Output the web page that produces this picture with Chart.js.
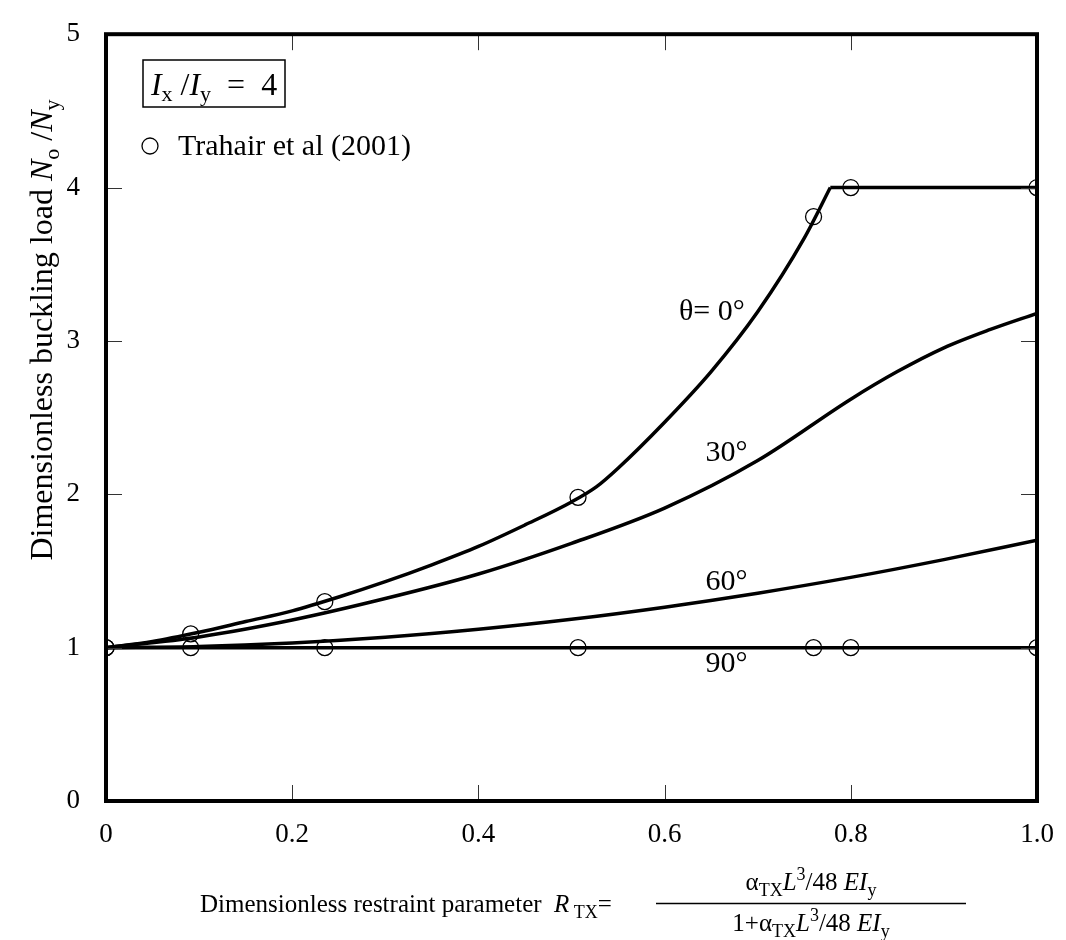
<!DOCTYPE html>
<html>
<head>
<meta charset="utf-8">
<title>Dimensionless buckling load</title>
<script src="https://cdn.jsdelivr.net/npm/chart.js@4.4.0/dist/chart.umd.min.js"></script>
<style>
  html, body { margin: 0; padding: 0; background: #fff; }
  #wrap { width: 1066px; height: 940px; }
</style>
</head>
<body>
<div id="wrap"><canvas id="grafico" width="1066" height="940"></canvas></div>
<script>
"use strict";
//Dados - curvas (R_TX x N0/Ny)
const rTheta0 = [0, 0.05, 0.1, 0.15, 0.2, 0.25, 0.3, 0.35, 0.4, 0.45, 0.5, 0.527, 0.55, 0.6, 0.65, 0.7, 0.75, 0.778];
const nTheta0 = [1, 1.04, 1.10, 1.17, 1.24, 1.33, 1.43, 1.54, 1.66, 1.80, 1.95, 2.05, 2.17, 2.47, 2.80, 3.19, 3.67, 4.0];
const rPlateau = [0.778, 1.0];
const nPlateau = [4.0, 4.0];
const rTheta30 = [0, 0.1, 0.2, 0.3, 0.4, 0.5, 0.6, 0.7, 0.8, 0.85, 0.9, 0.95, 1.0];
const nTheta30 = [1, 1.07, 1.18, 1.32, 1.48, 1.68, 1.91, 2.22, 2.62, 2.80, 2.955, 3.075, 3.18];
const rTheta60 = [0, 0.1, 0.2, 0.3, 0.4, 0.5, 0.6, 0.7, 0.8, 0.9, 1.0];
const nTheta60 = [1, 1.008, 1.031, 1.068, 1.12, 1.185, 1.264, 1.355, 1.458, 1.574, 1.70];
const rTheta90 = [0, 1.0];
const nTheta90 = [1, 1];
//Dados - Trahair et al (2001)
const rTrahair = [0, 0.091, 0.235, 0.507, 0.76, 0.80, 1.0];
const nTrahair0 = [1, 1.09, 1.30, 1.98, 3.81, 4.0, 4.0];
const nTrahair90 = [1, 1, 1, 1, 1, 1, 1];
//Eixos
const xTicks = [0, 0.2, 0.4, 0.6, 0.8, 1.0];
const yTicks = [0, 1, 2, 3, 4, 5];
//Rotulos das curvas
const curveLabels = [
  { text: "\u03b8= 0\u00b0", x: 0.686, y: 3.19 },
  { text: "30\u00b0", x: 0.689, y: 2.27 },
  { text: "60\u00b0", x: 0.689, y: 1.43 },
  { text: "90\u00b0", x: 0.689, y: 0.89 },
];

const FONT = '"Liberation Serif", "DejaVu Serif", serif';

const pares = (xs, ys) => xs.map((x, i) => ({ x: x, y: ys[i] }));

const linha = (label, xs, ys) => ({
  label: label,
  data: pares(xs, ys),
  showLine: true,
  borderColor: "#000",
  borderWidth: 3.5,
  pointRadius: 0,
  cubicInterpolationMode: "monotone",
  fill: false,
});

const pontos = (label, xs, ys) => ({
  label: label,
  data: pares(xs, ys),
  showLine: false,
  pointStyle: "circle",
  pointRadius: 8,
  pointBorderWidth: 1.3,
  pointBorderColor: "#000",
  pointBackgroundColor: "rgba(0,0,0,0)",
});

const fontOf = (p) => `${p.i ? "italic " : ""}${p.s}px ${FONT}`;

//texto com subscritos / sobrescritos
const richText = (ctx, parts, x, y, align) => {
  let w = 0;
  parts.forEach((p) => {
    ctx.font = fontOf(p);
    w += ctx.measureText(p.t).width;
  });
  let cx = align === "center" ? x - w / 2 : align === "right" ? x - w : x;
  ctx.textAlign = "left";
  parts.forEach((p) => {
    ctx.font = fontOf(p);
    ctx.fillText(p.t, cx, y + (p.dy || 0));
    cx += ctx.measureText(p.t).width;
  });
  return w;
};

const decoracao = {
  id: "decoracao",
  afterDatasetsDraw(chart) {
    const ctx = chart.ctx;
    const area = chart.chartArea;
    const sx = chart.scales.x;
    const sy = chart.scales.y;
    ctx.save();
    ctx.fillStyle = "#000";

    //ticks para dentro nos quatro lados
    ctx.lineWidth = 1;
    ctx.strokeStyle = "#333";
    ctx.beginPath();
    xTicks.slice(1, -1).forEach((v) => {
      const px = Math.round(sx.getPixelForValue(v)) + 0.5;
      ctx.moveTo(px, area.bottom);
      ctx.lineTo(px, area.bottom - 16);
      ctx.moveTo(px, area.top);
      ctx.lineTo(px, area.top + 16);
    });
    yTicks.slice(1, -1).forEach((v) => {
      const py = Math.round(sy.getPixelForValue(v)) + 0.5;
      ctx.moveTo(area.left, py);
      ctx.lineTo(area.left + 16, py);
      ctx.moveTo(area.right, py);
      ctx.lineTo(area.right - 16, py);
    });
    ctx.stroke();

    //moldura
    ctx.strokeStyle = "#000";
    ctx.lineWidth = 4;
    ctx.strokeRect(area.left, area.top, area.right - area.left, area.bottom - area.top);

    //rotulos das curvas
    ctx.textBaseline = "middle";
    curveLabels.forEach((l) => {
      ctx.font = `30px ${FONT}`;
      ctx.textAlign = "right";
      ctx.fillText(l.text, sx.getPixelForValue(l.x), sy.getPixelForValue(l.y));
    });

    //caixa I_x / I_y = 4
    ctx.textBaseline = "alphabetic";
    ctx.lineWidth = 1.5;
    ctx.strokeRect(143, 60, 142, 47);
    richText(ctx, [
      { t: "I", i: true, s: 32 },
      { t: "x", s: 22, dy: 6 },
      { t: " /", s: 32 },
      { t: "I", i: true, s: 32 },
      { t: "y", s: 22, dy: 6 },
      { t: "  =  4", s: 32 },
    ], 214, 95, "center");

    //legenda
    ctx.lineWidth = 1.3;
    ctx.beginPath();
    ctx.arc(150, 146, 8, 0, Math.PI * 2);
    ctx.stroke();
    ctx.textBaseline = "middle";
    ctx.font = `30px ${FONT}`;
    ctx.textAlign = "left";
    ctx.fillText("Trahair et al (2001)", 178, 147);

    //titulo eixo y
    ctx.textBaseline = "alphabetic";
    ctx.save();
    ctx.translate(42, 330);
    ctx.rotate(-Math.PI / 2);
    richText(ctx, [
      { t: "Dimensionless buckling load ", s: 32 },
      { t: "N", i: true, s: 32 },
      { t: "o", s: 22, dy: 7 },
      { t: " /", s: 32 },
      { t: "N", i: true, s: 32 },
      { t: "y", s: 22, dy: 7 },
    ], 0, 10, "center");
    ctx.restore();

    //titulo eixo x
    richText(ctx, [
      { t: "Dimensionless restraint parameter  ", s: 25 },
      { t: "R", i: true, s: 25 },
      { t: " TX", s: 18, dy: 6 },
      { t: "=", s: 25 },
    ], 200, 912, "left");
    ctx.lineWidth = 1.5;
    ctx.beginPath();
    ctx.moveTo(656, 903.5);
    ctx.lineTo(966, 903.5);
    ctx.stroke();
    const frac = (pre) => [
      { t: pre, s: 25 },
      { t: "TX", s: 18, dy: 6 },
      { t: "L", i: true, s: 25 },
      { t: "3", s: 18, dy: -10 },
      { t: "/48 ", s: 25 },
      { t: "EI", i: true, s: 25 },
      { t: "y", s: 18, dy: 6 },
    ];
    richText(ctx, frac("\u03b1"), 811, 890, "center");
    richText(ctx, frac("1+\u03b1"), 811, 931, "center");
    ctx.restore();
  },
};

const grafico = document.getElementById("grafico");

const chart = new Chart(grafico, {
  type: "scatter",
  data: {
    datasets: [
      linha("\u03b8 = 0\u00b0", rTheta0, nTheta0),
      linha("\u03b8 = 0\u00b0 (plateau)", rPlateau, nPlateau),
      linha("\u03b8 = 30\u00b0", rTheta30, nTheta30),
      linha("\u03b8 = 60\u00b0", rTheta60, nTheta60),
      linha("\u03b8 = 90\u00b0", rTheta90, nTheta90),
      pontos("Trahair et al (2001)", rTrahair, nTrahair0),
      pontos("Trahair et al (2001) 90\u00b0", rTrahair, nTrahair90),
    ],
  },
  options: {
    responsive: false,
    devicePixelRatio: 1,
    animation: false,
    layout: { padding: { left: 0, top: 27, right: 29, bottom: 0 } },
    plugins: {
      legend: { display: false },
      tooltip: { enabled: false },
    },
    scales: {
      x: {
        type: "linear",
        min: 0,
        max: 1,
        afterBuildTicks: (s) => { s.ticks = xTicks.map((v) => ({ value: v })); },
        afterFit: (s) => { s.height = 139; },
        ticks: {
          color: "#000",
          padding: 10,
          font: { family: FONT, size: 27 },
          callback: (v) => (v === 0 ? "0" : v.toFixed(1)),
        },
        grid: { display: false },
        border: { display: false },
      },
      y: {
        type: "linear",
        min: 0,
        max: 5,
        afterBuildTicks: (s) => { s.ticks = yTicks.map((v) => ({ value: v })); },
        afterFit: (s) => { s.width = 106; },
        ticks: {
          color: "#000",
          padding: 18,
          font: { family: FONT, size: 27 },
          callback: (v) => String(v),
        },
        grid: { display: false },
        border: { display: false },
      },
    },
  },
  plugins: [decoracao],
});
</script>
</body>
</html>
